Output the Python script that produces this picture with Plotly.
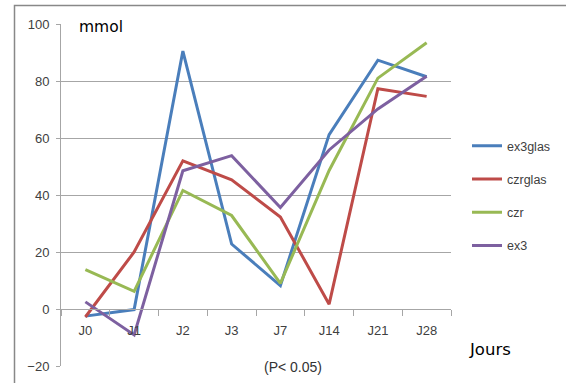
import plotly.graph_objects as go

categories = ["J0", "J1", "J2", "J3", "J7", "J14", "J21", "J28"]
ex3glas = [-2.5, -0.2, 90.5, 22.8, 8.2, 61.2, 87.3, 81.5]
czrglas = [-2.8, 20.0, 52.0, 45.3, 32.3, 1.7, 77.3, 74.6]
czr = [13.8, 6.2, 41.6, 32.8, 9.0, 48.6, 81.0, 93.4]
ex3 = [2.5, -9.1, 48.5, 53.8, 35.6, 55.8, 70.2, 81.7]

series = [
    ("ex3glas", ex3glas, "#4A7EBB"),
    ("czrglas", czrglas, "#BE4B48"),
    ("czr", czr, "#98B954"),
    ("ex3", ex3, "#7D60A0"),
]

W, H = 566, 383
L, R, T, B = 61, 115, 24, 16.5
pw = W - L - R
ph = H - T - B

def px_x(x):
    return (x - L) / pw

def px_y(y):
    return (H - B - y) / ph

fig = go.Figure()
for name, vals, col in series:
    fig.add_trace(go.Scatter(
        x=categories, y=vals, name=name, mode="lines",
        line=dict(color=col, width=3), legendgroup=name,
    ))

grid = "#a6a6a6"
border = dict(color="#888888", width=1.5)
fig.update_layout(
    width=W, height=H,
    margin=dict(l=L, r=R, t=T, b=B, autoexpand=False),
    paper_bgcolor="white", plot_bgcolor="white",
    font=dict(family="Liberation Sans", size=13, color="#404040"),
    showlegend=True,
    legend=dict(
        x=px_x(467), xanchor="left", y=px_y(196), yanchor="middle",
        font=dict(family="Liberation Sans", size=12.5, color="#404040"),
        tracegroupgap=14, bgcolor="rgba(0,0,0,0)",
    ),
    xaxis=dict(
        type="category", categoryorder="array", categoryarray=categories,
        range=[-0.5, 7.5], anchor="free", position=1/6,
        showline=True, linecolor=grid, linewidth=1,
        ticks="outside", tickson="boundaries", ticklen=6, tickcolor=grid,
        ticklabelstandoff=9,
        showgrid=False, zeroline=False,
        tickfont=dict(size=13, color="#404040"),
    ),
    yaxis=dict(
        range=[-20, 100], dtick=20, tick0=0,
        showline=True, linecolor=grid, linewidth=1,
        ticks="outside", ticklen=4, tickcolor=grid,
        ticklabelstandoff=4,
        showgrid=True, gridcolor=grid, gridwidth=1, zeroline=False,
        tickfont=dict(size=13, color="#404040"),
    ),
    shapes=[
        dict(type="rect", xref="paper", yref="paper",
             x0=px_x(14.5), x1=px_x(580), y0=px_y(400), y1=px_y(5.5),
             line=border, fillcolor="rgba(0,0,0,0)", layer="above"),
    ],
    annotations=[
        dict(text="mmol", xref="paper", yref="paper", x=px_x(77), y=px_y(27),
             xanchor="left", yanchor="middle", showarrow=False,
             font=dict(family="DejaVu Sans", size=15.5, color="#000000")),
        dict(text="Jours", xref="paper", yref="paper", x=px_x(467), y=px_y(350),
             xanchor="left", yanchor="middle", showarrow=False,
             font=dict(family="DejaVu Sans", size=16.5, color="#000000")),
        dict(text="(P< 0.05)", xref="paper", yref="paper", x=px_x(292.5), y=px_y(368),
             xanchor="center", yanchor="middle", showarrow=False,
             font=dict(family="Liberation Sans", size=14, color="#333333")),
    ],
)

fig.write_html(
    "out.html",
    config={"displayModeBar": False},
    post_script="document.body.style.margin='0';document.body.style.overflow='hidden';",
)
